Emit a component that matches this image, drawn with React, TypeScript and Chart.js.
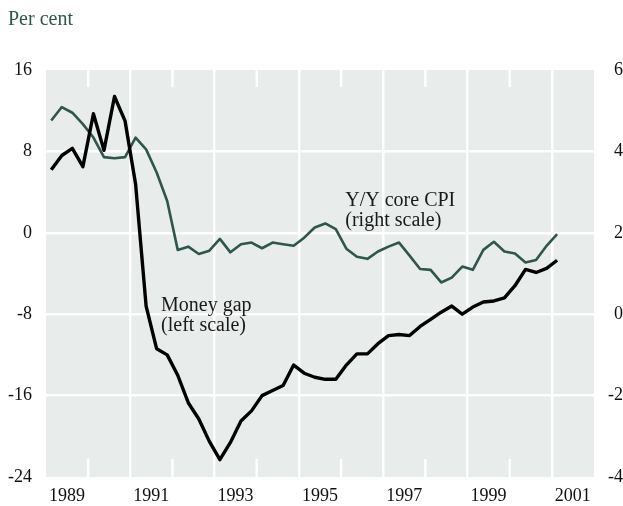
import React, { useEffect, useRef } from 'react';
import { Chart, registerables } from 'chart.js';

Chart.register(...registerables);

// ---- data ----
const firstYear = 1989;
const quarterCount = 49; // 1989Q1 .. 2001Q1
const quarters: string[] = [];
for (let i = 0; i < quarterCount; i++) {
  quarters.push(`${firstYear + Math.floor(i / 4)}Q${(i % 4) + 1}`);
}

const moneyGap = [
  6.2, 7.6, 8.3, 6.5, 11.7, 8.1, 13.4, 11.0, 4.8, -7.2, -11.4, -12.0,
  -14.0, -16.7, -18.3, -20.5, -22.3, -20.6, -18.5, -17.5, -16.0, -15.5, -15.0, -13.0,
  -13.8, -14.2, -14.4, -14.4, -13.0, -11.9, -11.9, -10.9, -10.1, -10.0, -10.1, -9.2,
  -8.5, -7.8, -7.2, -8.0, -7.3, -6.8, -6.7, -6.4, -5.2, -3.6, -3.9, -3.5, -2.7,
];

const coreCPI = [
  4.76, 5.09, 4.95, 4.67, 4.34, 3.86, 3.83, 3.86, 4.34, 4.05, 3.48, 2.78,
  1.58, 1.66, 1.48, 1.56, 1.85, 1.52, 1.72, 1.76, 1.62, 1.76, 1.72, 1.68,
  1.88, 2.13, 2.23, 2.09, 1.61, 1.41, 1.36, 1.54, 1.66, 1.76, 1.44, 1.11,
  1.09, 0.78, 0.90, 1.17, 1.09, 1.58, 1.78, 1.54, 1.49, 1.27, 1.33, 1.68, 1.97,
];

const yearLabels = ['1989', '1991', '1993', '1995', '1997', '1999', '2001'];
const xMin = 1989;
const xMax = 2002;
const leftMin = -24, leftMax = 16, leftStep = 8;
const rightMin = -4, rightMax = 6, rightStep = 2;

const unitText = 'Per cent';
const moneyLabel = ['Money gap', '(left scale)'];
const moneyLabelAt = { x: 1991.73, y: -7.65 };
const cpiLabel = ['Y/Y core CPI', '(right scale)'];
const cpiLabelAt = { x: 1996.1, y: 2.65 };

// ---- styles ----
const GREEN = '#2f564c';
const BG = '#e8eceb';
const FONT = "'Liberation Serif', 'Times New Roman', serif";

function quarterX(q: string): number {
  const y = parseInt(q.slice(0, 4), 10);
  const n = parseInt(q.slice(5), 10);
  return y + (n - 0.5) / 4;
}

export default function App() {
  const ref = useRef<HTMLCanvasElement | null>(null);

  useEffect(() => {
    if (!ref.current) return;

    const bgPlugin = {
      id: 'bg',
      beforeDraw(chart: any) {
        const { ctx, chartArea: a } = chart;
        ctx.save();
        ctx.fillStyle = BG;
        ctx.fillRect(a.left, a.top, a.right - a.left, a.bottom - a.top);
        ctx.restore();
      },
    };

    const shortTicks = {
      id: 'shortTicks',
      beforeDatasetsDraw(chart: any) {
        const { ctx, chartArea: a, scales } = chart;
        const xs = scales.x;
        ctx.save();
        ctx.strokeStyle = '#ffffff';
        ctx.lineWidth = 2.5;
        for (let yr = xMin + 1; yr < xMax; yr += 2) {
          const px = xs.getPixelForValue(yr);
          ctx.beginPath();
          ctx.moveTo(px, a.top);
          ctx.lineTo(px, a.top + 17);
          ctx.moveTo(px, a.bottom);
          ctx.lineTo(px, a.bottom - 18);
          ctx.stroke();
        }
        ctx.restore();
      },
    };

    const texts = {
      id: 'texts',
      afterDraw(chart: any) {
        const { ctx, scales } = chart;
        ctx.save();
        ctx.textAlign = 'left';
        ctx.textBaseline = 'alphabetic';
        ctx.font = `20px ${FONT}`;
        ctx.fillStyle = GREEN;
        ctx.fillText(unitText, 8, 25);
        ctx.fillStyle = '#1a1a1a';
        ctx.font = `20px ${FONT}`;
        const mx = scales.x.getPixelForValue(moneyLabelAt.x);
        const my = scales.yL.getPixelForValue(moneyLabelAt.y);
        moneyLabel.forEach((t, i) => ctx.fillText(t, mx, my + i * 20));
        const cx = scales.x.getPixelForValue(cpiLabelAt.x);
        const cy = scales.yL.getPixelForValue(cpiLabelAt.y);
        cpiLabel.forEach((t, i) => ctx.fillText(t, cx, cy + i * 20));
        ctx.restore();
      },
    };

    const chart = new Chart(ref.current, {
      type: 'line',
      data: {
        datasets: [
          {
            label: 'Money gap',
            data: quarters.map((q, i) => ({ x: quarterX(q), y: moneyGap[i] })),
            borderColor: '#000000',
            borderWidth: 3.4,
            pointRadius: 0,
            tension: 0,
            yAxisID: 'yL',
            borderJoinStyle: 'round',
          },
          {
            label: 'Y/Y core CPI',
            data: quarters.map((q, i) => ({ x: quarterX(q), y: coreCPI[i] })),
            borderColor: GREEN,
            borderWidth: 2.6,
            pointRadius: 0,
            tension: 0,
            yAxisID: 'yR',
            borderJoinStyle: 'round',
          },
        ],
      },
      options: {
        responsive: false,
        animation: false,
        events: [],
        layout: { padding: { top: 70, left: 0, right: 0, bottom: 0 } },
        plugins: { legend: { display: false }, tooltip: { enabled: false } },
        scales: {
          x: {
            type: 'linear',
            min: xMin,
            max: xMax,
            afterBuildTicks(scale: any) {
              const t = [];
              for (let v = xMin; v <= xMax; v++) t.push({ value: v });
              scale.ticks = t;
            },
            afterFit(scale: any) {
              scale.height = 29;
            },
            ticks: {
              autoSkip: false,
              maxRotation: 0,
              minRotation: 0,
              labelOffset: 21,
              padding: 8,
              color: '#111111',
              font: { family: FONT, size: 18 },
              callback: (v: any) => (yearLabels.includes(String(v)) ? String(v) : ''),
            },
            grid: {
              drawTicks: false,
              lineWidth: 2.5,
              color: (ctx: any) => {
                const v = ctx.tick ? ctx.tick.value : 0;
                return v > xMin && v < xMax && (v - xMin) % 2 === 0 ? '#ffffff' : 'rgba(0,0,0,0)';
              },
            },
            border: { display: false },
          },
          yL: {
            type: 'linear',
            position: 'left',
            min: leftMin,
            max: leftMax,
            afterFit(scale: any) {
              scale.width = 46;
            },
            ticks: {
              stepSize: leftStep,
              padding: 14,
              color: '#111111',
              font: { family: FONT, size: 18 },
            },
            grid: {
              drawTicks: false,
              lineWidth: 2.5,
              color: (ctx: any) => {
                const v = ctx.tick ? ctx.tick.value : 0;
                return v > leftMin && v < leftMax ? '#ffffff' : 'rgba(0,0,0,0)';
              },
            },
            border: { display: false },
          },
          yR: {
            type: 'linear',
            position: 'right',
            min: rightMin,
            max: rightMax,
            afterFit(scale: any) {
              scale.width = 29;
            },
            ticks: {
              stepSize: rightStep,
              padding: 13,
              crossAlign: 'far',
              color: '#111111',
              font: { family: FONT, size: 18 },
            },
            grid: { display: false, drawTicks: false },
            border: { display: false },
          },
        },
      },
      plugins: [bgPlugin, shortTicks, texts],
    } as any);

    return () => chart.destroy();
  }, []);

  return (
    <div style={{ position: 'absolute', left: 0, top: 0, width: 623, height: 506, background: '#ffffff' }}>
      <canvas ref={ref} width={623} height={506} style={{ width: 623, height: 506, display: 'block' }} />
    </div>
  );
}
